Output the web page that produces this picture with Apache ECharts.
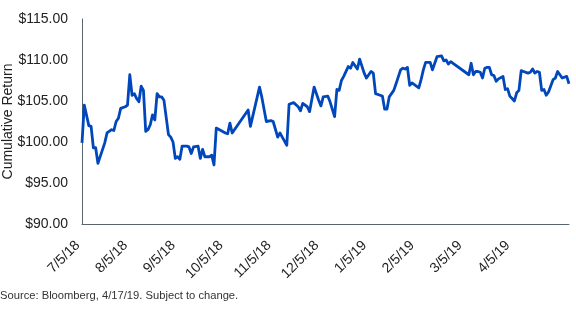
<!DOCTYPE html>
<html>
<head>
<meta charset="utf-8">
<script src="https://cdn.jsdelivr.net/npm/echarts@6/dist/echarts.min.js"></script>
<style>
  html, body { margin: 0; padding: 0; background: #fff; }
  #chart { width: 576px; height: 312px; }
</style>
</head>
<body>
<div id="chart"></div>
<script>
// trading-day position of each point (21 per labelled month)
const days = [
  0, 1, 3, 4, 5, 6, 7, 10, 11, 13, 14, 15, 16, 17, 19, 20, 21, 22, 23, 24,
  25, 26, 27, 28, 29, 30, 31, 32, 33, 34, 35, 36, 38, 39, 40, 41, 42, 43, 44, 46,
  47, 48, 49, 51, 52, 53, 54, 56, 57, 58, 59, 61, 63, 64, 65, 66, 73, 74, 78, 79,
  81, 83, 84, 86, 87, 88, 90, 91, 93, 95, 96, 97, 99, 100, 102, 104, 105, 106, 108, 109,
  111, 112, 113, 114, 115, 117, 118, 119, 120, 121, 122, 124, 125, 127, 128, 129, 131, 132, 133, 134,
  135, 137, 138, 140, 141, 142, 143, 144, 145, 148, 149, 150, 151, 153, 154, 155, 156, 158, 159, 160,
  161, 162, 170, 171, 172, 173, 174, 175, 176, 177, 178, 179, 180, 181, 182, 183, 185, 186, 187, 188,
  189, 190, 191, 192, 193, 194, 196, 197, 198, 199, 200, 201, 202, 203, 204, 205, 207, 208, 209, 210,
  211, 213, 214
];
const returns = [
  99.9, 104.5, 102.0, 101.9, 99.3, 99.3, 97.4, 99.9, 101.1, 101.5, 101.4, 102.5, 102.9, 104.1, 104.3, 104.5, 108.2, 105.7, 105.9, 105.3,
  104.9, 106.8, 106.3, 101.3, 101.5, 102.1, 103.3, 102.7, 105.9, 105.5, 105.5, 105.1, 100.9, 100.6, 100.0, 98.0, 98.2, 97.9, 99.5, 99.5,
  99.4, 98.6, 99.4, 99.5, 98.0, 99.1, 98.2, 98.2, 98.4, 97.2, 101.7, 101.4, 101.1, 101.0, 102.3, 101.1, 103.9, 101.9, 106.7, 105.5,
  102.5, 102.6, 102.5, 100.6, 101.1, 100.6, 99.6, 104.6, 104.8, 104.3, 103.8, 104.7, 104.3, 103.7, 106.7, 105.1, 104.4, 105.5, 105.6, 104.9,
  103.1, 106.4, 106.3, 107.5, 108.0, 109.2, 109.0, 109.7, 109.3, 108.9, 110.1, 108.4, 107.8, 108.6, 108.4, 105.9, 105.7, 105.6, 104.0, 104.0,
  105.5, 106.3, 107.1, 108.8, 109.0, 108.9, 109.1, 106.9, 107.2, 106.6, 107.6, 108.8, 109.7, 109.7, 108.8, 109.6, 110.4, 110.5, 109.9, 110.0,
  109.5, 109.8, 108.2, 109.6, 108.2, 108.6, 108.6, 108.5, 107.8, 109.0, 109.1, 109.1, 108.2, 108.1, 107.4, 107.7, 108.0, 106.4, 106.5, 105.6,
  105.3, 105.0, 106.0, 106.3, 108.7, 108.6, 108.4, 108.5, 108.9, 108.4, 108.6, 108.5, 106.3, 106.4, 105.7, 106.1, 107.6, 107.8, 108.6, 108.2,
  107.8, 108.0, 107.1
];
const tickLabels = ['7/5/18', '8/5/18', '9/5/18', '10/5/18', '11/5/18', '12/5/18', '1/5/19', '2/5/19', '3/5/19', '4/5/19'];
const labelStep = 21;

const chart = echarts.init(document.getElementById('chart'));

const option = {
  animation: false,
  title: {
    text: 'Source: Bloomberg, 4/17/19. Subject to change.',
    left: 0,
    top: 290,
    padding: 0,
    textStyle: {
      color: '#333',
      fontSize: 11.2,
      fontWeight: 'normal',
      fontFamily: 'Liberation Sans, Arial, sans-serif'
    }
  },
  grid: {
    left: 82,
    right: 7,
    top: 19,
    bottom: 88,
    containLabel: false,
    outerBoundsMode: 'none'
  },
  xAxis: {
    type: 'value',
    min: 0,
    max: 214,
    interval: labelStep,
    axisLine: { show: true, lineStyle: { color: '#59656f', width: 1 } },
    axisTick: { show: false },
    splitLine: { show: false },
    axisLabel: {
      rotate: 45,
      margin: 15,
      padding: [0, 6, 0, 0],
      color: '#222',
      fontSize: 14,
      fontFamily: 'Liberation Sans, Arial, sans-serif',
      showMaxLabel: false,
      formatter: (v) => {
        const i = v / labelStep;
        return Number.isInteger(i) && i < tickLabels.length ? tickLabels[i] : '';
      }
    }
  },
  yAxis: {
    type: 'value',
    min: 90,
    max: 115,
    interval: 5,
    name: 'Cumulative Return',
    nameLocation: 'middle',
    nameGap: 67,
    nameMoveOverlap: false,
    nameTextStyle: {
      color: '#222',
      fontSize: 14,
      fontFamily: 'Liberation Sans, Arial, sans-serif'
    },
    axisLine: { show: true, lineStyle: { color: '#59656f', width: 1 } },
    axisTick: { show: false },
    splitLine: { show: false },
    axisLabel: {
      margin: 14,
      color: '#222',
      fontSize: 14,
      fontFamily: 'Liberation Sans, Arial, sans-serif',
      formatter: (v) => '$' + v.toFixed(2)
    }
  },
  series: [
    {
      type: 'line',
      data: days.map((d, i) => [d, returns[i]]),
      showSymbol: false,
      lineStyle: { color: '#0047bb', width: 2.8, join: 'round' },
      itemStyle: { color: '#0047bb' }
    }
  ]
};

chart.setOption(option);
</script>
</body>
</html>
